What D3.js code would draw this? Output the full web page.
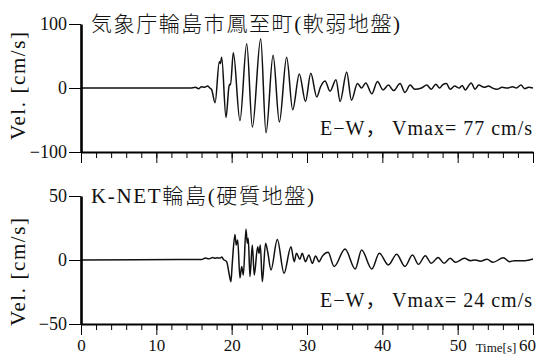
<!DOCTYPE html>
<html>
<head>
<meta charset="utf-8">
<script src="https://cdn.jsdelivr.net/npm/d3@7"></script>
<style>
  html, body { margin: 0; padding: 0; background: #fff; }
  svg { display: block; }
</style>
</head>
<body>
<svg id="chart" width="544" height="355"></svg>
<script>
// Velocity waveforms (time in s, velocity in cm/s).
const jmaTime = [0, 14.5, 15.2, 15.6, 16.0, 16.4, 16.8, 17.1, 17.35, 17.8, 18.36, 18.5, 18.67, 19.25,
  19.65, 19.75, 19.85, 20.22, 21.1, 22.0, 22.75, 23.85, 24.56, 25.5, 26.33, 27.3, 28.1, 28.98, 29.8,
  30.5, 31.3, 31.8, 32.4, 33.05, 33.85, 34.4, 35.27, 35.9, 36.7, 37.25, 37.8, 38.6, 39.35, 40.1, 40.8,
  41.5, 42.35, 43.0, 43.7, 44.3, 45.2, 45.9, 46.5, 47.1, 47.6, 48.0, 48.5, 49.0, 49.6, 50.2, 50.6,
  51.0, 51.8, 52.3, 52.8, 53.5, 54.1, 54.6, 55.2, 55.9, 56.6, 57.3, 57.8, 58.4, 58.9, 59.4, 60];
const jmaVel = [0, 0, 1, -1, 2, 1, 3, 0, -3, -23, 41, 38, 48, -46,
  3, 6, 5, 55, -51, 69, -61, 77, -70, 51, -53, 48, -34, 22, -21,
  23, -14, 2, 11, -5, 13, -21, 25, -19, 7, 0, 8, -9, 10, -3, 4.5,
  -4, 7, -7, 4.5, -2, 0, 4.5, -2, 6, 0, 5, 7, -2, 3, 0, 4,
  -3, 8, -2, 4.5, 1, 3, 0, -2, 1, 0, 2, 0, 4.5, -1, 1, 0];

const knetTime = [0, 13, 16.0, 16.5, 17.0, 17.5, 17.8, 18.0, 18.5, 18.7, 18.9, 19.33, 19.64, 19.9,
  20.08, 20.44, 20.6, 20.8, 21.1, 21.33, 21.55, 21.9, 22.08, 22.2, 22.43, 22.74, 23.0, 23.45, 23.63,
  23.8, 24.07, 24.5, 24.78, 25.22, 26.06, 26.95, 27.87, 28.3, 28.6, 29.05, 29.36, 29.8, 30.25, 30.7,
  31.14, 31.6, 32.0, 32.8, 33.6, 35.05, 36.4, 37.25, 38.6, 39.6, 40.8, 41.9, 43.0, 44.0, 44.8, 45.7,
  46.5, 47.4, 48.2, 49.0, 49.7, 50.9, 51.7, 52.35, 53.0, 53.9, 54.7, 56.06, 56.9, 57.5, 58.9, 60];
const knetVel = [0, 0.3, 0.4, 1.5, 1.0, 2.0, 1.3, 1.8, 1.5, 2.3, 0.5, -1.3, -10, -17,
  -2.6, 20, 11.7, 15.6, -14, -5, -11.7, 24, 13, 17, -13, 11.7, -11.7, 10.4, 5.2,
  11.7, -17, 13, 6.5, -7.8, 16, -10.4, 10.4, -1.3, 5.2, 0.5, 5.2, -1.3, 3.9, -2.6,
  3.1, -1.3, 2.6, 6, -5, 8.6, -7, 7.8, -7, 5.2, -3.9, 4.4, -5, 3.9, -3.4, 3.4,
  -2.6, 2, -2.6, 1.3, -1.8, 1.3, -0.5, 0, -0.9, 0.5, -1.8, 1.8, -1.3, -0.5, -0.5, 0.8];

const panels = [
  { title: "気象庁輪島市鳳至町(軟弱地盤)", titleLen: 309, note: "E−W， Vmax= 77 cm/s", time: jmaTime, vel: jmaVel,
    domain: [-100, 100], ticks: [-100, 0, 100], top: 24, bottom: 152, labelY: 86, showX: false },
  { title: "K-NET輪島(硬質地盤)", titleLen: 223, note: "E−W， Vmax= 24 cm/s", time: knetTime, vel: knetVel,
    domain: [-50, 50], ticks: [-50, 0, 50], top: 196, bottom: 324, labelY: 272, showX: true },
];

const FONT = "'Liberation Serif', 'Noto Sans CJK JP', serif";
const svg = d3.select("#chart").attr("font-family", FONT);
const x = d3.scaleLinear().domain([0, 60]).range([81, 533]);

panels.forEach((p) => {
  const y = d3.scaleLinear().domain(p.domain).range([p.bottom, p.top]);
  const g = svg.append("g");

  // waveform
  const line = d3.line()
    .x((d) => x(d[0]))
    .y((d) => y(d[1]))
    .curve(d3.curveMonotoneX);
  g.append("path")
    .datum(d3.zip(p.time, p.vel))
    .attr("fill", "none")
    .attr("stroke", "#111")
    .attr("stroke-width", 1.5)
    .attr("stroke-linejoin", "round")
    .attr("d", line);

  // minor x ticks every 2 s
  g.append("g")
    .attr("transform", `translate(0,${p.bottom})`)
    .call(d3.axisBottom(x).tickValues(d3.range(0, 61, 2)).tickSize(6).tickSizeOuter(0).tickFormat(""))
    .call((a) => a.select(".domain").attr("stroke-width", 2.2));

  // major x ticks every 10 s
  const xMajor = g.append("g")
    .attr("transform", `translate(0,${p.bottom})`)
    .call(d3.axisBottom(x).tickValues(d3.range(0, 61, 10)).tickSize(11).tickSizeOuter(0).tickPadding(4)
      .tickFormat(p.showX ? d3.format("d") : ""))
    .attr("font-family", FONT)
    .attr("font-size", 17);
  xMajor.select(".domain").remove();
  xMajor.selectAll("text").attr("fill", "#111");
  xMajor.selectAll(".tick").filter((d) => d === 60).select("text").attr("dx", -6);

  // y axis
  const yAxis = g.append("g")
    .attr("transform", `translate(${x(0)},0)`)
    .call(d3.axisLeft(y).tickValues(p.ticks).tickSize(12).tickSizeOuter(0).tickPadding(2))
    .attr("font-family", FONT)
    .attr("font-size", 18);
  yAxis.select(".domain").attr("stroke-width", 2.6);
  yAxis.selectAll("text").attr("fill", "#111");

  // y label
  g.append("text")
    .attr("transform", `translate(25,${p.labelY}) rotate(-90)`)
    .attr("text-anchor", "middle")
    .attr("font-size", 21)
    .attr("textLength", 108)
    .attr("fill", "#111")
    .text("Vel. [cm/s]");

  // station title
  g.append("text")
    .attr("x", 91)
    .attr("y", p.top + 7)
    .attr("font-size", 21)
    .attr("font-weight", 300)
    .attr("textLength", p.titleLen)
    .attr("fill", "#111")
    .text(p.title);

  // component / peak note
  g.append("text")
    .attr("x", 532)
    .attr("y", p.bottom - 17)
    .attr("text-anchor", "end")
    .attr("font-size", 20)
    .attr("textLength", 212)
    .attr("fill", "#111")
    .text(p.note);
});

svg.append("text")
  .attr("x", 496)
  .attr("y", 352)
  .attr("text-anchor", "middle")
  .attr("font-size", 13)
  .attr("fill", "#111")
  .text("Time[s]");
</script>
</body>
</html>
